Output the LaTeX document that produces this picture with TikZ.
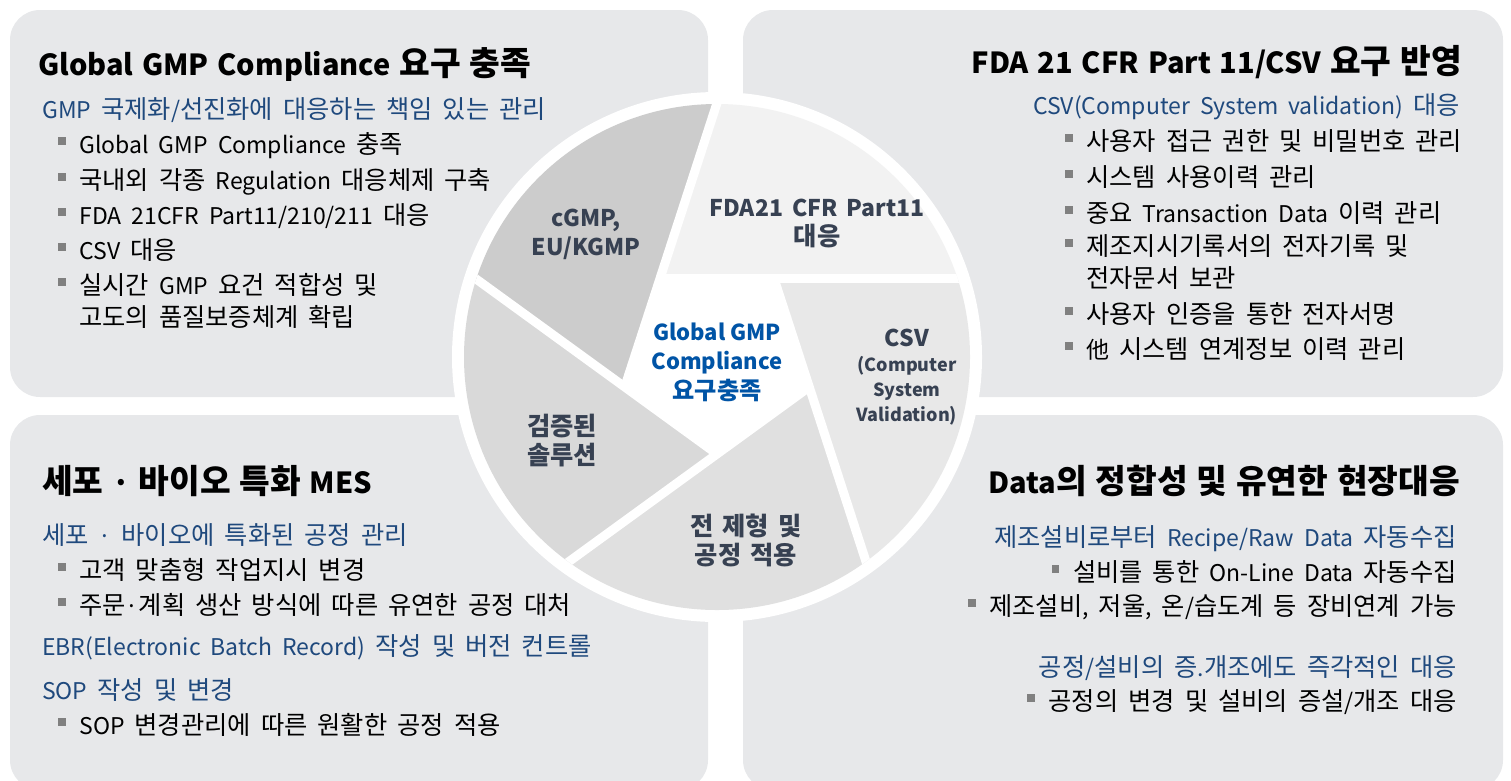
\documentclass[tikz,border=0pt]{standalone}
\usepackage{fontspec}
\setmainfont{Noto Sans CJK KR}
\newfontfamily\hanfont{Noto Sans CJK KR}[Scale=1.1]
\newfontfamily\hanheadfont{Noto Sans CJK KR}[Scale=1.15]
\usepackage{xcolor}
\usepackage{tikz}
\usetikzlibrary{calc,positioning}

% Hangul a little larger than the Latin letters
\let\hanswitch\hanfont
\XeTeXinterchartokenstate=1
\newXeTeXintercharclass\hanclass
\newcount\hancode
\hancode="AC00\relax
\loop
  \XeTeXcharclass\hancode=\hanclass
  \ifnum\hancode<"D7A3\relax \advance\hancode by 1 \repeat
\XeTeXinterchartoks 0 \hanclass = {\hanswitch}
\XeTeXinterchartoks 4095 \hanclass = {\hanswitch}
\XeTeXinterchartoks \hanclass 0 = {\rmfamily}
\XeTeXinterchartoks \hanclass 4095 = {\rmfamily}

\definecolor{boxgray}{RGB}{231,232,234}
\definecolor{subblue}{RGB}{31,73,125}
\definecolor{midblue}{RGB}{0,84,166}
\definecolor{bladetext}{RGB}{55,65,82}
\definecolor{bltgray}{RGB}{128,128,128}
\definecolor{gmpgray}{RGB}{204,204,204}
\definecolor{fdagray}{RGB}{242,242,242}
\definecolor{csvgray}{RGB}{232,232,232}
\definecolor{prcgray}{RGB}{224,224,224}
\definecolor{solgray}{RGB}{217,217,217}

\newcommand{\blt}{\textcolor{bltgray}{\rule[0.36em]{0.32em}{0.32em}}\hspace{0.6em}}
\newcommand{\wsp}[1]{\spaceskip=#1pt\relax}

\begin{document}
\begin{tikzpicture}[x=1pt,y=-1pt,
  every node/.style={inner sep=0pt},
  head/.style={font=\fontsize{29}{36}\selectfont\bfseries\let\hanswitch\hanheadfont\wsp{8.8}, text=black},
  sub/.style={font=\fontsize{23}{28}\selectfont\wsp{10}, text=subblue},
  item/.style={font=\fontsize{23}{28}\selectfont\wsp{10}, text=black},
  blade/.style={font=\fontsize{23}{29}\selectfont\bfseries\wsp{9}, text=bladetext, align=center},
  gap/.style={white, line width=9pt}]
\useasboundingbox (0,0) rectangle (1511,780);
\clip (0,0) rectangle (1511,780);

% four panels
\fill[boxgray, rounded corners=30pt] (10,10) rectangle (708,397);
\fill[boxgray, rounded corners=30pt] (743,10) rectangle (1503,397);
\fill[boxgray, rounded corners=30pt] (10,415) rectangle (708,790);
\fill[boxgray, rounded corners=30pt] (743,415) rectangle (1503,790);

% shutter in the middle
\coordinate (O) at (717,357);
\coordinate (p1) at ($(O)+(234:97)$);
\coordinate (p2) at ($(O)+(306:97)$);
\coordinate (p3) at ($(O)+(18:97)$);
\coordinate (p4) at ($(O)+(90:97)$);
\coordinate (p5) at ($(O)+(162:97)$);
\fill[white] (O) circle (265pt);
\begin{scope}
\clip (O) circle (253pt);
\fill[fdagray] (p1) -- ++(288:600) -- ++(0:600) -- ++(108:600) -- cycle;
\fill[csvgray] (p2) -- ++(0:600) -- ++(72:600) -- ++(180:600) -- cycle;
\fill[prcgray] (p3) -- ++(72:600) -- ++(144:600) -- ++(252:600) -- cycle;
\fill[solgray] (p4) -- ++(144:600) -- ++(216:600) -- ++(324:600) -- cycle;
\fill[gmpgray] (p5) -- ++(216:600) -- ++(288:600) -- ++(36:600) -- cycle;
\draw[gap] (p1) -- ++(0:600);
\draw[gap] (p2) -- ++(72:600);
\draw[gap] (p3) -- ++(144:600);
\draw[gap] (p4) -- ++(216:600);
\draw[gap] (p5) -- ++(288:600);
\end{scope}

\node[blade] (c1) at (586,234) {cGMP,\\EU/KGMP};
\node[blade] (c2) at (817,223) {FDA21 CFR Part11\\대응};
\node[blade, font=\fontsize{18}{25}\selectfont\bfseries] (c3) at (907,377) {{\fontsize{23}{25}\selectfont CSV}\\(Computer\\System\\Validation)};
\node[blade] (c4) at (562,441) {검증된\\솔루션};
\node[blade] (c5) at (746,540) {전 제형 및\\공정 적용};
\node[blade, font=\fontsize{22}{29.5}\selectfont\bfseries, text=midblue] (c0) at (717,362) {Global GMP\\Compliance\\요구충족};

% top left
\node[head, anchor=base west] (t1) at (38,75) {Global GMP Compliance 요구 충족};
\node[sub, anchor=base west] (t2) at (42,118) {GMP 국제화/선진화에 대응하는 책임 있는 관리};
\node[item, anchor=base west] (t3) at (58,153) {\blt Global GMP Compliance 충족};
\node[item, anchor=base west] (t4) at (58,189) {\blt 국내외 각종 Regulation 대응체제 구축};
\node[item, anchor=base west] (t5) at (58,224) {\blt FDA 21CFR Part11/210/211 대응};
\node[item, anchor=base west] (t6) at (58,259) {\blt CSV 대응};
\node[item, anchor=base west] (t7) at (58,294) {\blt 실시간 GMP 요건 적합성 및};
\node[item, anchor=base west] (t8) at (79,326) {고도의 품질보증체계 확립};

% top right
\node[head, anchor=base east] (r1) at (1462,73) {FDA 21 CFR Part 11/CSV 요구 반영};
\node[sub, anchor=base east] (r2) at (1460,114) {CSV(Computer System validation) 대응};
\node[item, anchor=base west] (r3) at (1065,150) {\blt 사용자 접근 권한 및 비밀번호 관리};
\node[item, anchor=base west] (r4) at (1065,186) {\blt 시스템 사용이력 관리};
\node[item, anchor=base west] (r5) at (1065,222) {\blt 중요 Transaction Data 이력 관리};
\node[item, anchor=base west] (r6) at (1065,255) {\blt 제조지시기록서의 전자기록 및};
\node[item, anchor=base west] (r7) at (1086,287) {전자문서 보관};
\node[item, anchor=base west] (r8) at (1065,323) {\blt 사용자 인증을 통한 전자서명};
\node[item, anchor=base west] (r9) at (1065,358) {\blt 他 시스템 연계정보 이력 관리};

% bottom left
\node[head, anchor=base west] (b1) at (42,493) {세포 · 바이오 특화 MES};
\node[sub, anchor=base west] (b2) at (42,544) {세포 · 바이오에 특화된 공정 관리};
\node[item, anchor=base west] (b3) at (58,579) {\blt 고객 맞춤형 작업지시 변경};
\node[item, anchor=base west] (b4) at (58,614) {\blt 주문·계획 생산 방식에 따른 유연한 공정 대처};
\node[sub, anchor=base west] (b5) at (42,655) {EBR(Electronic Batch Record) 작성 및 버전 컨트롤};
\node[sub, anchor=base west] (b6) at (42,699) {SOP 작성 및 변경};
\node[item, anchor=base west] (b7) at (58,734) {\blt SOP 변경관리에 따른 원활한 공정 적용};

% bottom right
\node[head, anchor=base east] (d1) at (1460,493) {Data의 정합성 및 유연한 현장대응};
\node[sub, anchor=base east] (d2) at (1457,546) {제조설비로부터 Recipe/Raw Data 자동수집};
\node[item, anchor=base east] (d3) at (1457,581) {\blt 설비를 통한 On-Line Data 자동수집};
\node[item, anchor=base east] (d4) at (1457,615) {\blt 제조설비, 저울, 온/습도계 등 장비연계 가능};
\node[sub, anchor=base east] (d5) at (1457,676) {공정/설비의 증.개조에도 즉각적인 대응};
\node[item, anchor=base east] (d6) at (1457,710) {\blt 공정의 변경 및 설비의 증설/개조 대응};
\end{tikzpicture}
\end{document}
